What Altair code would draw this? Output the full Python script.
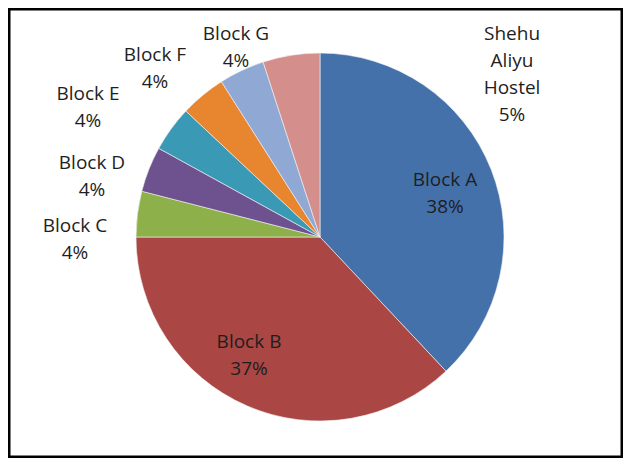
import altair as alt
import pandas as pd

# Data
categories = ["Block A", "Block B", "Block C", "Block D", "Block E",
              "Block F", "Block G", "Shehu Aliyu Hostel"]
values = [38, 37, 4, 4, 4, 4, 4, 5]
label_texts = ["Block A\n38%", "Block B\n37%", "Block C\n4%", "Block D\n4%",
               "Block E\n4%", "Block F\n4%", "Block G\n4%",
               "Shehu\nAliyu\nHostel\n5%"]
colors = ["#4571AB", "#AA4644", "#8DB04B", "#6E5290", "#3A9AB5",
          "#E8852F", "#8FA8D4", "#D48E8C"]

# Layout (first-line label anchor positions in chart pixels)
label_x = [437, 241, 67, 84, 80, 147, 228, 504]
label_y = [172, 334, 218, 155, 86, 47, 26, 26]

df = pd.DataFrame({
    "cat": categories,
    "value": values,
    "order": list(range(len(categories))),
    "label": label_texts,
    "lx": label_x,
    "ly": label_y,
})

color = alt.Color("cat:N", scale=alt.Scale(domain=categories, range=colors), legend=None)

pie = alt.Chart(df).mark_arc(radius=184, stroke="#f4f4f4", strokeWidth=0.6).encode(
    theta=alt.Theta("value:Q", stack=True),
    order=alt.Order("order:Q"),
    color=color,
    x=alt.value(312),
    y=alt.value(229),
)

labels = alt.Chart(df).mark_text(
    lineBreak="\n", lineHeight=27, font="Open Sans", fontSize=19,
    align="center", baseline="middle", color="#1e1e1e"
).encode(
    x=alt.X("lx:Q", scale=None),
    y=alt.Y("ly:Q", scale=None),
    text="label:N",
)

chart = alt.layer(pie, labels).properties(
    width=615, height=450, padding=0,
    autosize=alt.AutoSizeParams(type="fit", contains="padding"),
).configure_view(stroke="black", strokeWidth=5)

chart.save("out.html", embed_options={"renderer": "svg", "actions": False})
